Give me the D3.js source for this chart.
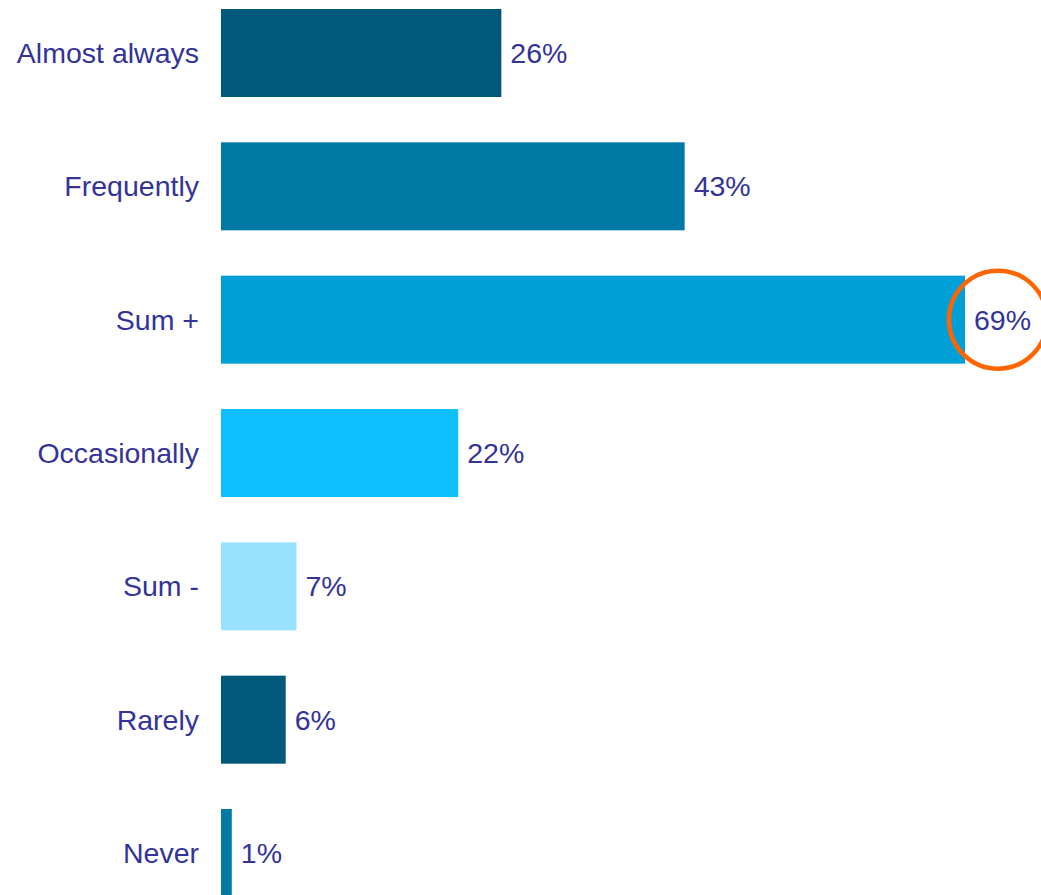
<!DOCTYPE html>
<html>
<head>
<meta charset="utf-8">
<script src="https://cdn.jsdelivr.net/npm/d3@7"></script>
<style>
  html, body { margin: 0; padding: 0; background: #ffffff; }
  svg { display: block; }
  text { font-family: "Liberation Sans", Arial, sans-serif; fill: #333399; }
</style>
</head>
<body>
<svg id="chart" width="1041" height="895"></svg>
<script>
// Survey responses, in display order (top to bottom)
const categories = ["Almost always", "Frequently", "Sum +", "Occasionally", "Sum -", "Rarely", "Never"];
const values = [26, 43, 69, 22, 7, 6, 1];
const colors = ["#00587a", "#0079a5", "#009fd7", "#10bfff", "#99e2ff", "#00587a", "#0079a5"];
const highlighted = "Sum +";

const width = 1041, height = 895;
const svg = d3.select("#chart");

const x = d3.scaleLinear().domain([0, 69]).range([221, 965]);
const y = d3.scaleBand()
  .domain(categories)
  .range([-13.67, 919.67])
  .paddingInner(0.34)
  .paddingOuter(0.17);

const rows = categories.map((c, i) => ({ cat: c, val: values[i], color: colors[i] }));

// Bars
svg.append("g").selectAll("rect")
  .data(rows)
  .join("rect")
  .attr("x", x(0))
  .attr("y", d => y(d.cat))
  .attr("width", d => x(d.val) - x(0))
  .attr("height", y.bandwidth())
  .attr("fill", d => d.color);

// Category labels
svg.append("g").selectAll("text")
  .data(rows)
  .join("text")
  .attr("x", x(0) - 22)
  .attr("y", d => y(d.cat) + y.bandwidth() / 2)
  .attr("dy", "0.35em")
  .attr("text-anchor", "end")
  .style("font-size", "28.5px")
  .text(d => d.cat);

// Value labels
svg.append("g").selectAll("text")
  .data(rows)
  .join("text")
  .attr("x", d => x(d.val) + 9)
  .attr("y", d => y(d.cat) + y.bandwidth() / 2)
  .attr("dy", "0.35em")
  .style("font-size", "28.5px")
  .text(d => d.val + "%");

// Highlight ring around the combined positive share
const hi = rows.find(d => d.cat === highlighted);
svg.append("circle")
  .attr("cx", x(hi.val) + 33)
  .attr("cy", y(hi.cat) + y.bandwidth() / 2)
  .attr("r", 49)
  .attr("fill", "none")
  .attr("stroke", "#ff6600")
  .attr("stroke-width", 4.5);
</script>
</body>
</html>
